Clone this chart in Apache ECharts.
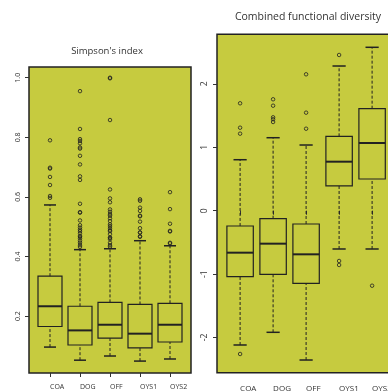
<!DOCTYPE html>
<html>
<head>
<meta charset="utf-8">
<script src="https://cdn.jsdelivr.net/npm/echarts@6/dist/echarts.min.js"></script>
<style>html,body{margin:0;padding:0;background:#fff;}#c{width:388px;height:392px;}</style>
</head>
<body>
<div id="c"></div>
<script>
const categories = ['COA', 'DOG', 'OFF', 'OYS1', 'OYS2'];

// Simpson's index: whisker low, Q1, median, Q3, whisker high
const simpsonLow    = [0.096, 0.052, 0.066, 0.049, 0.056];
const simpsonQ1     = [0.165, 0.103, 0.126, 0.093, 0.113];
const simpsonMedian = [0.233, 0.152, 0.171, 0.141, 0.171];
const simpsonQ3     = [0.334, 0.233, 0.246, 0.239, 0.243];
const simpsonHigh   = [0.573, 0.423, 0.426, 0.453, 0.436];
const simpsonOutCOA  = [0.790, 0.698, 0.695, 0.667, 0.640, 0.603, 0.597];
const simpsonOutDOG  = [0.955, 0.828, 0.794, 0.788, 0.780, 0.766, 0.762, 0.738, 0.709, 0.669, 0.657,
                        0.577, 0.549, 0.547, 0.521, 0.505, 0.497, 0.490, 0.485, 0.478, 0.469, 0.466,
                        0.461, 0.453, 0.446, 0.438, 0.432];
const simpsonOutOFF  = [1.000, 0.998, 0.858, 0.625, 0.595, 0.582, 0.558, 0.550, 0.542, 0.537, 0.528,
                        0.519, 0.508, 0.502, 0.495, 0.488, 0.485, 0.475, 0.464, 0.462, 0.458, 0.446,
                        0.438, 0.433];
const simpsonOutOYS1 = [0.592, 0.587, 0.564, 0.553, 0.537, 0.535, 0.517, 0.495, 0.481, 0.480, 0.468, 0.466];
const simpsonOutOYS2 = [0.616, 0.559, 0.510, 0.486, 0.484, 0.446, 0.444];
const simpsonTicks = [0.2, 0.4, 0.6, 0.8, 1.0];

// Combined functional diversity
const cfdLow    = [-2.118, -1.918, -2.355, -0.604, -0.604];
const cfdQ1     = [-1.041, -1.003, -1.145, 0.390, 0.500];
const cfdMedian = [-0.662, -0.520, -0.688, 0.773, 1.068];
const cfdQ3     = [-0.241, -0.126, -0.210, 1.173, 1.609];
const cfdHigh   = [0.804, 1.151, 1.036, 2.282, 2.577];
const cfdOutCOA  = [1.694, 1.309, 1.215, -2.260];
const cfdOutDOG  = [1.757, 1.656, 1.473, 1.442, 1.399];
const cfdOutOFF  = [2.151, 1.546, 1.293];
const cfdOutOYS1 = [2.456, -0.793, -0.856];
const cfdOutOYS2 = [-1.183];
const cfdTicks = [-2, -1, 0, 1, 2];

const catPos = categories.map((c, i) => i + 1);
const ink = '#222';
const textCol = '#333';
const fill = '#c6cb3f';
const font = "'Open Sans', 'DejaVu Sans', sans-serif";

function boxData(lo, q1, md, q3, hi) {
  return categories.map((c, i) => [catPos[i], lo[i], q1[i], md[i], q3[i], hi[i]]);
}
function outData(lists) {
  const out = [];
  lists.forEach((l, i) => l.forEach(v => out.push([catPos[i], v])));
  return out;
}

function renderBox(params, api) {
  const x = api.value(0);
  const lo = api.coord([x, api.value(1)]);
  const q1 = api.coord([x, api.value(2)]);
  const md = api.coord([x, api.value(3)]);
  const q3 = api.coord([x, api.value(4)]);
  const hi = api.coord([x, api.value(5)]);
  const w = api.size([0.8, 0])[0];
  const half = w / 2, cap = w / 4;
  const dash = { stroke: ink, lineWidth: 1, lineDash: [3, 2], fill: null };
  const solid = (lw) => ({ stroke: ink, lineWidth: lw, fill: null });
  return {
    type: 'group',
    children: [
      { type: 'line', shape: { x1: lo[0], y1: lo[1], x2: q1[0], y2: q1[1] }, style: dash },
      { type: 'line', shape: { x1: q3[0], y1: q3[1], x2: hi[0], y2: hi[1] }, style: dash },
      { type: 'line', shape: { x1: lo[0] - cap, y1: lo[1], x2: lo[0] + cap, y2: lo[1] }, style: solid(1.5) },
      { type: 'line', shape: { x1: hi[0] - cap, y1: hi[1], x2: hi[0] + cap, y2: hi[1] }, style: solid(1.5) },
      { type: 'rect', shape: { x: q3[0] - half, y: q3[1], width: w, height: q1[1] - q3[1] }, style: solid(1.2) },
      { type: 'line', shape: { x1: md[0] - half, y1: md[1], x2: md[0] + half, y2: md[1] }, style: solid(2) }
    ]
  };
}

function xAxisFor(gridIndex, margin, size) {
  return {
    type: 'value', gridIndex, min: 0.3, max: 5.7,
    splitLine: { show: false },
    axisLine: { show: false },
    axisTick: { show: true, customValues: catPos, length: 4, lineStyle: { color: textCol, width: 1 } },
    axisLabel: {
      customValues: catPos, align: 'left', margin,
      formatter: v => categories[Math.round(v) - 1] || '',
      color: textCol, fontSize: size, fontFamily: font
    }
  };
}
function yAxisFor(gridIndex, min, max, ticks, fmt, size) {
  return {
    type: 'value', gridIndex, min, max,
    splitLine: { show: false },
    axisLine: { show: false },
    axisTick: { show: true, customValues: ticks, length: 4, lineStyle: { color: textCol, width: 1 } },
    axisLabel: {
      customValues: ticks, rotate: 90, margin: 8, formatter: fmt,
      color: textCol, fontSize: size, fontFamily: font
    }
  };
}

const chart = echarts.init(document.getElementById('c'), null, { renderer: 'canvas' });
chart.setOption({
  backgroundColor: '#ffffff',
  animation: false,
  title: [
    { text: "Simpson's index", left: 102, top: 41, textAlign: 'center',
      textStyle: { fontSize: 9.5, fontWeight: 'normal', color: textCol, fontFamily: font } },
    { text: 'Combined functional diversity', left: 303, top: 6.5, textAlign: 'center',
      textStyle: { fontSize: 10.5, fontWeight: 'normal', color: textCol, fontFamily: font } }
  ],
  grid: [
    { left: 29, top: 67, width: 162, height: 306, show: true, backgroundColor: fill,
      borderColor: ink, borderWidth: 1.5, containLabel: false, outerBoundsMode: 'none' },
    { left: 217, top: 34.3, width: 178.2, height: 338.4, show: true, backgroundColor: fill,
      borderColor: ink, borderWidth: 1.5, containLabel: false, outerBoundsMode: 'none' }
  ],
  xAxis: [xAxisFor(0, 10, 7), xAxisFor(1, 12, 8)],
  yAxis: [
    yAxisFor(0, 0.009, 1.036, simpsonTicks, v => v.toFixed(1), 7),
    yAxisFor(1, -2.555, 2.782, cfdTicks, v => String(Math.round(v)), 8.5)
  ],
  series: [
    { type: 'custom', xAxisIndex: 0, yAxisIndex: 0, renderItem: renderBox,
      encode: { x: 0, y: [1, 2, 3, 4, 5] },
      data: boxData(simpsonLow, simpsonQ1, simpsonMedian, simpsonQ3, simpsonHigh) },
    { type: 'scatter', xAxisIndex: 0, yAxisIndex: 0, symbol: 'circle', symbolSize: 3.5,
      itemStyle: { color: 'rgba(0,0,0,0)', borderColor: ink, borderWidth: 1 },
      data: outData([simpsonOutCOA, simpsonOutDOG, simpsonOutOFF, simpsonOutOYS1, simpsonOutOYS2]) },
    { type: 'custom', xAxisIndex: 1, yAxisIndex: 1, renderItem: renderBox,
      encode: { x: 0, y: [1, 2, 3, 4, 5] },
      data: boxData(cfdLow, cfdQ1, cfdMedian, cfdQ3, cfdHigh) },
    { type: 'scatter', xAxisIndex: 1, yAxisIndex: 1, symbol: 'circle', symbolSize: 3.5,
      itemStyle: { color: 'rgba(0,0,0,0)', borderColor: ink, borderWidth: 1 },
      data: outData([cfdOutCOA, cfdOutDOG, cfdOutOFF, cfdOutOYS1, cfdOutOYS2]) }
  ]
});
</script>
</body>
</html>
